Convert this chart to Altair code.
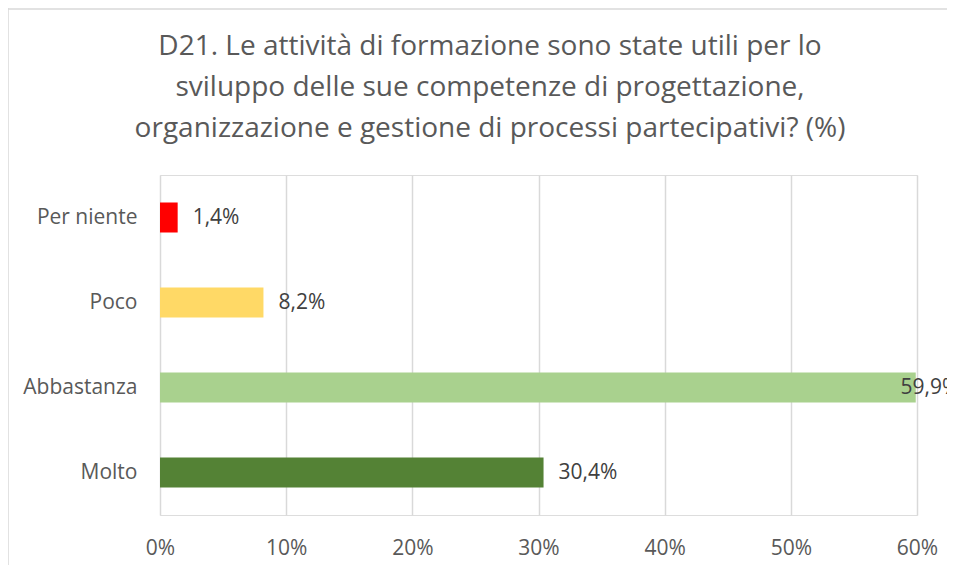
import altair as alt
import pandas as pd

categories = ["Per niente", "Poco", "Abbastanza", "Molto"]
values = [1.4, 8.2, 59.9, 30.4]
colors = ["#FF0000", "#FFD966", "#A9D18E", "#548235"]
x_ticks = [0, 10, 20, 30, 40, 50, 60]
title_lines = [
    "D21. Le attività di formazione sono state utili per lo",
    "sviluppo delle sue competenze di progettazione,",
    "organizzazione e gestione di processi partecipativi? (%)",
]

df = pd.DataFrame({
    "cat": categories,
    "val": values,
    "label": [f"{v:.1f}%".replace(".", ",") for v in values],
})

FONT = "Open Sans"
FS = 21

y_enc = alt.Y(
    "cat:N", sort=categories, title=None,
    scale=alt.Scale(paddingInner=0.647, paddingOuter=0.3235),
    axis=alt.Axis(domain=False, ticks=False, labelPadding=23, labelFontSize=FS,
                  labelColor="#595959", labelFont=FONT, grid=False),
)

bars = alt.Chart(df).mark_bar().encode(
    x=alt.X("val:Q", title=None,
            scale=alt.Scale(domain=[0, 60], nice=False),
            axis=alt.Axis(values=x_ticks, labelExpr="datum.value + '%'",
                          domain=False, ticks=False, grid=True,
                          gridColor="#D9D9D9", gridWidth=1.5,
                          labelPadding=22, labelFontSize=FS, labelFlush=False,
                          labelColor="#595959", labelFont=FONT)),
    y=y_enc,
    color=alt.Color("cat:N", scale=alt.Scale(domain=categories, range=colors), legend=None),
)

text = alt.Chart(df).transform_calculate(
    lx="min(datum.val, 57.5)"
).mark_text(align="left", baseline="middle", dx=15, fontSize=FS,
            font=FONT, color="#404040").encode(
    x="lx:Q",
    y=alt.Y("cat:N", sort=categories),
    text="label:N",
)

title_data = alt.Data(values=[{"t": "\n".join(title_lines)}])
title = alt.Chart(title_data).mark_text(
    align="center", baseline="middle", lineBreak="\n", lineHeight=41,
    fontSize=28, font=FONT, color="#595959",
).encode(x=alt.value(330), y=alt.value(-128), text="t:N")

border_data = alt.Data(values=[{"a": 1}])
left_border = alt.Chart(border_data).mark_rule(color="#D9D9D9", strokeWidth=1.5).encode(
    x=alt.value(-152), y=alt.value(-167), y2=alt.value(400)
)
top_border = alt.Chart(border_data).mark_rule(color="#D9D9D9", strokeWidth=1.5).encode(
    x=alt.value(-152), x2=alt.value(800), y=alt.value(-166)
)

chart = alt.layer(bars, text, title, left_border, top_border).properties(
    width=757, height=340,
    autosize=alt.AutoSizeParams(type="none"),
    padding={"left": 152, "top": 167, "right": 30, "bottom": 50},
).configure_view(stroke=None).configure(background="white")

chart.save("out.html", embed_options={"renderer": "svg", "actions": False})
